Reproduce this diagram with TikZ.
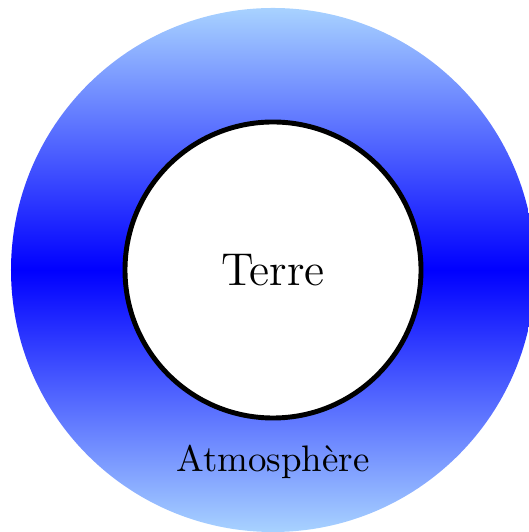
\documentclass[tikz,border=0pt]{standalone}
\usetikzlibrary{positioning}
\definecolor{skyblue}{RGB}{168,210,255}

\begin{document}
\begin{tikzpicture}[
  atmo/.style={circle, inner sep=0pt, minimum size=5.24cm,
    top color=skyblue, bottom color=skyblue, middle color=blue},
  earth/.style={circle, draw, line width=1.4pt, fill=white, inner sep=0pt,
    minimum size=2.96cm, font=\fontsize{13.1}{16}\selectfont},
  lbl/.style={font=\fontsize{10.5}{13}\selectfont}
]
\useasboundingbox (-2.73,-2.62) rectangle (2.55,2.70);

% ---------- layers ----------
\node[atmo] (A) at (0,0) {};
\node[earth] (T) at (0,0) {Terre};
\node[lbl] (Alab) at (0,-1.92) {Atmosphère};
\end{tikzpicture}
\end{document}
